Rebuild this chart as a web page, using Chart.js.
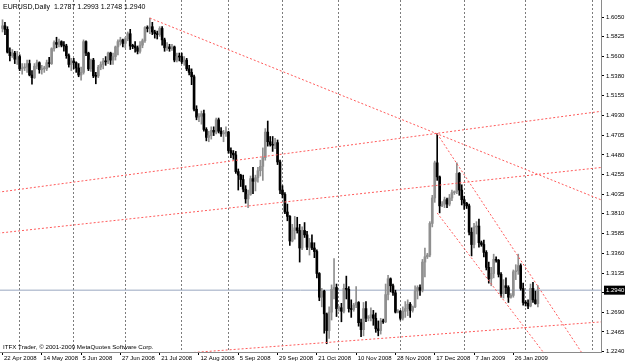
<!DOCTYPE html>
<html>
<head>
<meta charset="utf-8">
<script src="https://cdn.jsdelivr.net/npm/chart.js@4.4.1/dist/chart.umd.min.js"></script>
<style>
  html, body { margin: 0; padding: 0; background: #fff; }
</style>
</head>
<body>
<canvas id="myChart" width="625" height="363"></canvas>
<script>
// EURUSD Daily - 22 Apr 2008 .. 6 Feb 2009 //

var symbolName = 'EURUSD,Daily';
var copyrightText = 'ITFX Trader, \u00a9 2001-2009 MetaQuotes Software Corp.';

var opens = [
  1.5920,1.5950,1.5910,1.5650,1.5610,1.5640,1.5570,1.5600,1.5460,1.5470,
  1.5480,1.5520,1.5390,1.5360,1.5490,1.5530,1.5450,1.5460,1.5460,1.5530,
  1.5520,1.5690,1.5760,1.5740,1.5770,1.5730,1.5720,1.5610,1.5510,1.5550,
  1.5530,1.5470,1.5390,1.5420,1.5770,1.5640,1.5460,1.5560,1.5380,1.5380,
  1.5480,1.5510,1.5550,1.5540,1.5640,1.5560,1.5600,1.5710,1.5770,1.5790,
  1.5750,1.5800,1.5860,1.5720,1.5720,1.5700,1.5660,1.5730,1.5780,1.5930,
  1.5920,1.5940,1.5880,1.5860,1.5850,1.5920,1.5790,1.5700,1.5710,1.5690,
  1.5710,1.5560,1.5600,1.5600,1.5540,1.5560,1.5460,1.5420,1.5370,1.5000,
  1.4910,1.4920,1.4950,1.4770,1.4680,1.4700,1.4760,1.4740,1.4880,1.4750,
  1.4720,1.4730,1.4740,1.4530,1.4500,1.4480,1.4290,1.4250,1.4200,1.4090,
  1.3980,1.4030,1.4210,1.4180,1.4220,1.4300,1.4350,1.4450,1.4740,1.4630,
  1.4600,1.4590,1.4620,1.4400,1.4080,1.4030,1.3830,1.3780,1.3500,1.3620,
  1.3650,1.3620,1.3420,1.3620,1.3570,1.3430,1.3480,1.3420,1.3380,1.3130,
  1.2860,1.2930,1.2670,1.2480,1.2690,1.2950,1.2970,1.2730,1.2740,1.2700,
  1.2960,1.2950,1.2730,1.2720,1.2770,1.2800,1.2570,1.2490,1.2730,1.2620,
  1.2630,1.2660,1.2620,1.2500,1.2480,1.2590,1.2580,1.2890,1.3070,1.2990,
  1.2910,1.2690,1.2700,1.2620,1.2700,1.2730,1.2780,1.2710,1.2750,1.2930,
  1.2970,1.2940,1.3260,1.3320,1.3340,1.3700,1.3990,1.4390,1.4230,1.3900,
  1.3920,1.3970,1.3920,1.3990,1.4050,1.4060,1.4270,1.4080,1.3970,1.3930,
  1.3900,1.3600,1.3460,1.3660,1.3670,1.3480,1.3460,1.3370,1.3200,1.3070,
  1.3130,1.3290,1.3280,1.3120,1.2900,1.2990,1.2970,1.2860,1.2880,1.3150,
  1.3160,1.3220,1.2960,1.2800,1.2790,1.2760,1.2960,1.2830,1.2787
];
var highs = [
  1.6019,1.5990,1.5940,1.5700,1.5680,1.5660,1.5660,1.5620,1.5520,1.5520,
  1.5560,1.5560,1.5440,1.5520,1.5560,1.5540,1.5500,1.5490,1.5560,1.5590,
  1.5700,1.5780,1.5820,1.5800,1.5780,1.5770,1.5740,1.5630,1.5580,1.5580,
  1.5540,1.5520,1.5480,1.5790,1.5780,1.5650,1.5570,1.5580,1.5420,1.5500,
  1.5540,1.5580,1.5600,1.5650,1.5650,1.5640,1.5720,1.5790,1.5820,1.5800,
  1.5820,1.5880,1.5910,1.5740,1.5770,1.5720,1.5770,1.5800,1.5940,1.5950,
  1.6038,1.5990,1.5900,1.5890,1.5940,1.5940,1.5810,1.5760,1.5740,1.5740,
  1.5720,1.5640,1.5640,1.5640,1.5600,1.5580,1.5500,1.5460,1.5390,1.5040,
  1.4950,1.4980,1.4990,1.4790,1.4750,1.4800,1.4800,1.4900,1.4900,1.4790,
  1.4760,1.4800,1.4750,1.4560,1.4530,1.4520,1.4320,1.4260,1.4250,1.4130,
  1.4080,1.4240,1.4340,1.4250,1.4340,1.4420,1.4560,1.4780,1.4866,1.4690,
  1.4690,1.4670,1.4650,1.4420,1.4130,1.4050,1.3920,1.3790,1.3690,1.3780,
  1.3770,1.3690,1.3660,1.3710,1.3610,1.3530,1.3570,1.3480,1.3400,1.3140,
  1.2960,1.2940,1.2680,1.2750,1.3000,1.3300,1.3010,1.2760,1.2790,1.3010,
  1.3100,1.2980,1.2830,1.2790,1.2980,1.2810,1.2610,1.2800,1.2810,1.2650,
  1.2740,1.2710,1.2680,1.2590,1.2620,1.2610,1.3010,1.3110,1.3080,1.3010,
  1.2940,1.2720,1.2710,1.2750,1.2810,1.2830,1.2800,1.2760,1.2990,1.2990,
  1.3000,1.3290,1.3420,1.3360,1.3720,1.4020,1.4410,1.4720,1.4240,1.3950,
  1.4000,1.3990,1.4030,1.4080,1.4070,1.4390,1.4280,1.4140,1.4010,1.3940,
  1.3920,1.3650,1.3700,1.3720,1.3750,1.3500,1.3510,1.3390,1.3260,1.3200,
  1.3350,1.3320,1.3290,1.3140,1.3060,1.3080,1.2990,1.2900,1.3170,1.3230,
  1.3350,1.3240,1.3020,1.2820,1.2830,1.3010,1.3030,1.2930,1.2993
];
var lows = [
  1.5880,1.5850,1.5640,1.5550,1.5590,1.5520,1.5510,1.5440,1.5400,1.5440,
  1.5420,1.5380,1.5285,1.5350,1.5460,1.5410,1.5400,1.5420,1.5440,1.5480,
  1.5510,1.5660,1.5700,1.5710,1.5710,1.5660,1.5580,1.5480,1.5440,1.5460,
  1.5420,1.5370,1.5330,1.5400,1.5610,1.5440,1.5430,1.5360,1.5290,1.5360,
  1.5450,1.5460,1.5500,1.5520,1.5510,1.5510,1.5560,1.5620,1.5730,1.5710,
  1.5700,1.5780,1.5680,1.5690,1.5650,1.5630,1.5640,1.5700,1.5760,1.5880,
  1.5860,1.5850,1.5810,1.5800,1.5830,1.5730,1.5660,1.5670,1.5660,1.5670,
  1.5540,1.5540,1.5550,1.5520,1.5500,1.5440,1.5390,1.5280,1.4980,1.4880,
  1.4860,1.4830,1.4750,1.4640,1.4630,1.4660,1.4700,1.4720,1.4730,1.4690,
  1.4630,1.4690,1.4500,1.4450,1.4430,1.4270,1.4080,1.4120,1.4060,1.3930,
  1.3880,1.4020,1.4040,1.4070,1.4170,1.4240,1.4190,1.4420,1.4580,1.4580,
  1.4520,1.4550,1.4370,1.4040,1.3990,1.3810,1.3730,1.3450,1.3490,1.3520,
  1.3590,1.3260,1.3400,1.3540,1.3400,1.3340,1.3400,1.3310,1.3080,1.2820,
  1.2750,1.2450,1.2330,1.2390,1.2600,1.2840,1.2640,1.2700,1.2580,1.2680,
  1.2840,1.2690,1.2630,1.2700,1.2740,1.2530,1.2410,1.2420,1.2580,1.2590,
  1.2590,1.2540,1.2460,1.2420,1.2440,1.2560,1.2570,1.2830,1.2920,1.2880,
  1.2680,1.2680,1.2600,1.2600,1.2630,1.2650,1.2630,1.2690,1.2740,1.2840,
  1.2880,1.2920,1.3090,1.3300,1.3320,1.3660,1.3940,1.4190,1.3820,1.3890,
  1.3880,1.3880,1.3900,1.3960,1.4030,1.4040,1.4020,1.3910,1.3860,1.3870,
  1.3570,1.3330,1.3420,1.3580,1.3430,1.3440,1.3320,1.3170,1.3020,1.2990,
  1.3080,1.3260,1.3090,1.2860,1.2850,1.2900,1.2800,1.2850,1.2860,1.3060,
  1.3120,1.2940,1.2770,1.2760,1.2730,1.2750,1.2800,1.2780,1.2748
];
var closes = [
  1.5950,1.5910,1.5650,1.5610,1.5640,1.5570,1.5600,1.5460,1.5470,1.5480,
  1.5520,1.5390,1.5360,1.5490,1.5530,1.5450,1.5460,1.5465,1.5530,1.5520,
  1.5690,1.5760,1.5740,1.5770,1.5730,1.5720,1.5610,1.5510,1.5550,1.5530,
  1.5470,1.5390,1.5420,1.5770,1.5640,1.5460,1.5560,1.5380,1.5375,1.5480,
  1.5510,1.5550,1.5540,1.5640,1.5560,1.5600,1.5710,1.5770,1.5790,1.5750,
  1.5800,1.5860,1.5720,1.5715,1.5700,1.5660,1.5730,1.5780,1.5930,1.5920,
  1.5940,1.5880,1.5860,1.5850,1.5920,1.5790,1.5700,1.5710,1.5690,1.5710,
  1.5560,1.5600,1.5595,1.5540,1.5560,1.5460,1.5420,1.5370,1.5000,1.4910,
  1.4920,1.4950,1.4770,1.4680,1.4700,1.4760,1.4740,1.4880,1.4750,1.4720,
  1.4730,1.4740,1.4530,1.4500,1.4480,1.4290,1.4250,1.4200,1.4090,1.3980,
  1.4030,1.4210,1.4180,1.4220,1.4300,1.4350,1.4450,1.4740,1.4630,1.4600,
  1.4590,1.4620,1.4400,1.4080,1.4030,1.3830,1.3780,1.3500,1.3620,1.3650,
  1.3620,1.3420,1.3620,1.3570,1.3430,1.3480,1.3420,1.3380,1.3130,1.2860,
  1.2930,1.2670,1.2480,1.2690,1.2950,1.2970,1.2730,1.2740,1.2700,1.2960,
  1.2950,1.2730,1.2720,1.2770,1.2800,1.2570,1.2490,1.2730,1.2620,1.2630,
  1.2660,1.2620,1.2500,1.2480,1.2590,1.2580,1.2890,1.3070,1.2990,1.2910,
  1.2690,1.2700,1.2620,1.2700,1.2730,1.2780,1.2710,1.2750,1.2930,1.2970,
  1.2940,1.3260,1.3320,1.3340,1.3700,1.3990,1.4390,1.4230,1.3900,1.3920,
  1.3970,1.3920,1.3990,1.4050,1.4060,1.4270,1.4080,1.3970,1.3930,1.3900,
  1.3600,1.3460,1.3660,1.3670,1.3480,1.3460,1.3370,1.3200,1.3070,1.3130,
  1.3290,1.3280,1.3120,1.2900,1.2990,1.2970,1.2860,1.2880,1.3150,1.3160,
  1.3220,1.2960,1.2800,1.2790,1.2760,1.2960,1.2830,1.2787,1.2940
];

// one date label every 16 bars
var dateLabels = ['22 Apr 2008', '14 May 2008', '5 Jun 2008', '27 Jun 2008', '21 Jul 2008',
  '12 Aug 2008', '5 Sep 2008', '29 Sep 2008', '21 Oct 2008', '10 Nov 2008',
  '28 Nov 2008', '17 Dec 2008', '7 Jan 2009', '26 Jan 2009'];
var labelStep = 16;

// bars where a new month starts (dotted grid)
var monthStarts = [7, 29, 50, 73, 92, 114, 137, 162, 188, 213, 240.4];

var priceTicks = [1.6050, 1.5825, 1.5600, 1.5380, 1.5155, 1.4930, 1.4705, 1.4480, 1.4255,
  1.4035, 1.3810, 1.3585, 1.3360, 1.3135, 1.2910, 1.2690, 1.2465, 1.2240];

// trend lines: [bar, price] pairs
var lineJulPeak = [[60, 1.6038], [250, 1.3898]];
var lineUpperRise = [[-5, 1.4043], [250, 1.5000]];
var lineLowerRise = [[-5, 1.3579], [250, 1.4356]];
var lineBottom = [[60, 1.2193], [250, 1.2592]];
var lineChannelTop = [[177, 1.4720], [240, 1.2053]];
var lineChannelLow = [[177, 1.3819], [240, 1.1507]];

var fontFamily = '"Liberation Sans", Arial, sans-serif';
var fontSize = 6;
var bullColor = '#8f8f8f';
var bearColor = '#000000';
var trendColor = '#ff5a5a';

var last = closes.length - 1;
var candleColors = closes.map(function (c, i) { return c >= opens[i] ? bullColor : bearColor; });

function toPoints(pairs) {
  return pairs.map(function (p) { return { x: p[0], y: p[1] }; });
}

function trendSet(pairs) {
  return {
    type: 'line',
    data: toPoints(pairs),
    borderColor: trendColor,
    borderWidth: 1,
    borderDash: [2, 2],
    pointRadius: 0,
    fill: false,
    clip: 0,
    order: 0
  };
}

// texts drawn the MT4 way
var mtText = {
  id: 'mtText',
  afterDraw: function (chart) {
    var ctx = chart.ctx;
    var area = chart.chartArea;
    var py = chart.scales.y.getPixelForValue(closes[last]);
    var head = symbolName + '  ' + [opens[last], highs[last], lows[last], closes[last]]
      .map(function (v) { return v.toFixed(4); }).join(' ');
    ctx.save();
    ctx.textBaseline = 'middle';
    ctx.fillStyle = '#000';
    ctx.font = '7px ' + fontFamily;
    ctx.fillText(head, 3, 7);
    ctx.font = '6.2px ' + fontFamily;
    ctx.fillText(copyrightText, 3, 347);
    ctx.font = fontSize + 'px ' + fontFamily;
    var txt = closes[last].toFixed(4);
    var w = ctx.measureText(txt).width;
    ctx.fillRect(area.right + 3, py - 4.5, w + 4, 9);
    ctx.fillStyle = '#fff';
    ctx.fillText(txt, area.right + 5, py);
    ctx.restore();
  }
};

var xMin = -1.02;
var xMax = 243.7;

var ctx = document.getElementById('myChart').getContext('2d');
var chart = new Chart(ctx, {
  data: {
    datasets: [
      {
        type: 'bar',
        data: lows.map(function (l, i) { return { x: i, y: [l, highs[i]] }; }),
        backgroundColor: candleColors,
        barThickness: 1,
        grouped: false,
        order: 3
      },
      {
        type: 'bar',
        data: opens.map(function (o, i) { return { x: i, y: [o, closes[i]] }; }),
        backgroundColor: candleColors,
        barThickness: 2,
        minBarLength: 1,
        grouped: false,
        order: 2
      },
      {
        type: 'line',
        data: [{ x: -5, y: closes[last] }, { x: 260, y: closes[last] }],
        borderColor: '#98a6bf',
        borderWidth: 1,
        pointRadius: 0,
        clip: 0,
        order: 4
      },
      trendSet(lineJulPeak),
      trendSet(lineUpperRise),
      trendSet(lineLowerRise),
      trendSet(lineBottom),
      trendSet(lineChannelTop),
      trendSet(lineChannelLow)
    ]
  },
  options: {
    responsive: false,
    animation: false,
    devicePixelRatio: 1,
    layout: { padding: 0 },
    plugins: {
      legend: { display: false },
      tooltip: { enabled: false }
    },
    scales: {
      x: {
        type: 'linear',
        position: 'bottom',
        offset: false,
        min: xMin,
        max: xMax,
        afterBuildTicks: function (scale) {
          scale.ticks = dateLabels.map(function (d, i) { return { value: i * labelStep }; });
        },
        afterFit: function (scale) {
          scale.height = 11;
          scale.paddingLeft = 0;
          scale.paddingRight = 0;
        },
        ticks: {
          autoSkip: false,
          maxRotation: 0,
          align: 'start',
          labelOffset: 1.5,
          padding: 0,
          color: '#000',
          font: { family: fontFamily, size: fontSize },
          callback: function (v, i) { return dateLabels[i]; }
        },
        grid: { offset: false, drawOnChartArea: false, tickLength: 3, color: '#000' },
        border: { color: '#8a8a8a' }
      },
      xg: {
        type: 'linear',
        position: 'top',
        offset: false,
        min: xMin,
        max: xMax,
        afterBuildTicks: function (scale) {
          scale.ticks = monthStarts.map(function (v) { return { value: v }; });
        },
        afterFit: function (scale) {
          scale.height = 0;
          scale.paddingLeft = 0;
          scale.paddingRight = 0;
        },
        ticks: { display: false },
        grid: { offset: false, drawTicks: false, color: '#7c7c7c', lineWidth: 1 },
        border: { display: false, dash: [2, 2] }
      },
      y: {
        type: 'linear',
        position: 'right',
        min: 1.2236,
        max: 1.6244,
        afterBuildTicks: function (scale) {
          scale.ticks = priceTicks.map(function (v) { return { value: v }; });
        },
        afterFit: function (scale) {
          scale.width = 24;
          scale.paddingTop = 0;
          scale.paddingBottom = 0;
        },
        ticks: {
          autoSkip: false,
          padding: 2,
          color: '#000',
          font: { family: fontFamily, size: fontSize },
          callback: function (v) { return v.toFixed(4); }
        },
        grid: { drawOnChartArea: false, tickLength: 3, color: '#000' },
        border: { color: '#8a8a8a' }
      }
    }
  },
  plugins: [mtText]
});
</script>
</body>
</html>
